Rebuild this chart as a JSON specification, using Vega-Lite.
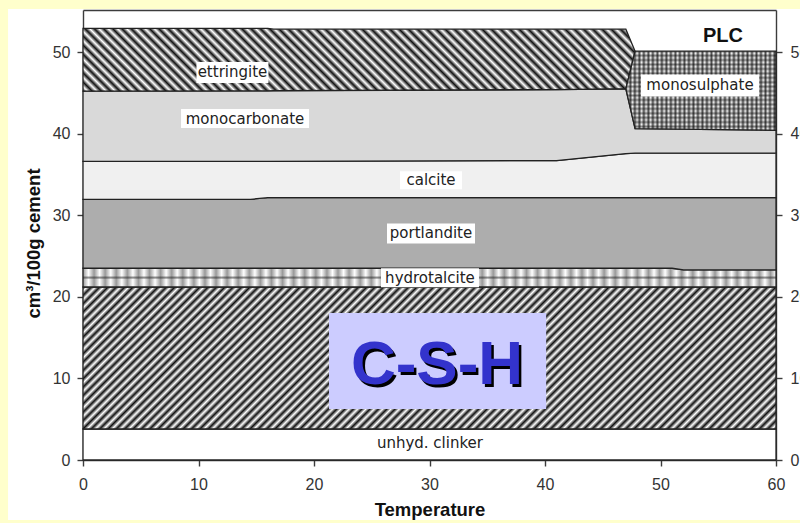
{
  "$schema": "https://vega.github.io/schema/vega-lite/v6.json",
  "width": 693,
  "height": 450,
  "autosize": {"type": "none"},
  "padding": {"left": 83, "top": 10, "right": 24, "bottom": 63},
  "background": "#ffffff",
  "config": {
    "view": {"stroke": null},
    "axis": {
      "zindex": 1, "grid": false,
      "domainColor": "#3c3c3c", "domainWidth": 1.4,
      "tickColor": "#3c3c3c", "tickWidth": 1.4, "tickSize": 6,
      "labelFont": "Liberation Sans", "labelFontSize": 16, "labelColor": "#333333", "labelFlush": false,
      "titleFont": "Liberation Sans", "titleFontSize": 18.5, "titleFontWeight": "bold", "titleColor": "#111111"
    }
  },
  "resolve": {"axis": {"x": "independent", "y": "independent"}},
  "datasets": {
    "phases": [
      {"phase": "unhyd. clinker", "T": 0, "lo": 0, "hi": 3.8},
      {"phase": "unhyd. clinker", "T": 60, "lo": 0, "hi": 3.8},
      {"phase": "C-S-H", "T": 0, "lo": 3.8, "hi": 21.2},
      {"phase": "C-S-H", "T": 60, "lo": 3.8, "hi": 21.2},
      {"phase": "hydrotalcite", "T": 0, "lo": 21.2, "hi": 23.5},
      {"phase": "hydrotalcite", "T": 51, "lo": 21.2, "hi": 23.5},
      {"phase": "hydrotalcite", "T": 52, "lo": 21.2, "hi": 23.3},
      {"phase": "hydrotalcite", "T": 60, "lo": 21.2, "hi": 23.3},
      {"phase": "portlandite", "T": 0, "lo": 23.5, "hi": 31.95},
      {"phase": "portlandite", "T": 14.5, "lo": 23.5, "hi": 31.95},
      {"phase": "portlandite", "T": 16, "lo": 23.5, "hi": 32.15},
      {"phase": "portlandite", "T": 51, "lo": 23.5, "hi": 32.15},
      {"phase": "portlandite", "T": 52, "lo": 23.3, "hi": 32.15},
      {"phase": "portlandite", "T": 60, "lo": 23.3, "hi": 32.15},
      {"phase": "calcite", "T": 0, "lo": 31.95, "hi": 36.6},
      {"phase": "calcite", "T": 14.5, "lo": 31.95, "hi": 36.6},
      {"phase": "calcite", "T": 16, "lo": 32.15, "hi": 36.6},
      {"phase": "calcite", "T": 41, "lo": 32.15, "hi": 36.7},
      {"phase": "calcite", "T": 47, "lo": 32.15, "hi": 37.55},
      {"phase": "calcite", "T": 47.8, "lo": 32.15, "hi": 37.6},
      {"phase": "calcite", "T": 60, "lo": 32.15, "hi": 37.6},
      {"phase": "monocarbonate", "T": 0, "lo": 36.6, "hi": 45.2},
      {"phase": "monocarbonate", "T": 16, "lo": 36.6, "hi": 45.25},
      {"phase": "monocarbonate", "T": 41, "lo": 36.7, "hi": 45.4},
      {"phase": "monocarbonate", "T": 47, "lo": 37.55, "hi": 45.5},
      {"phase": "monocarbonate", "T": 47.8, "lo": 37.6, "hi": 40.6},
      {"phase": "monocarbonate", "T": 60, "lo": 37.6, "hi": 40.4},
      {"phase": "ettringite", "T": 0, "lo": 45.2, "hi": 52.9},
      {"phase": "ettringite", "T": 16, "lo": 45.25, "hi": 52.9},
      {"phase": "ettringite", "T": 16.5, "lo": 45.26, "hi": 52.8},
      {"phase": "ettringite", "T": 41, "lo": 45.4, "hi": 52.8},
      {"phase": "ettringite", "T": 47, "lo": 45.5, "hi": 52.8},
      {"phase": "ettringite", "T": 47.8, "lo": 50.1, "hi": 50.1},
      {"phase": "monosulphate", "T": 47, "lo": 45.5, "hi": 45.5},
      {"phase": "monosulphate", "T": 47.8, "lo": 40.6, "hi": 50.1},
      {"phase": "monosulphate", "T": 60, "lo": 40.4, "hi": 50.1}
    ],
    "labels": [
      {"label": "ettringite", "T": 12.94, "v": 47.5},
      {"label": "monocarbonate", "T": 14.03, "v": 41.85},
      {"label": "calcite", "T": 30.13, "v": 34.3},
      {"label": "portlandite", "T": 30.13, "v": 27.76},
      {"label": "hydrotalcite", "T": 30.04, "v": 22.35},
      {"label": "monosulphate", "T": 53.42, "v": 45.9},
      {"label": "unhyd. clinker", "T": 30.04, "v": 2.08}
    ]
  },
  "layer": [
    {
      "data": {"values": [{}]},
      "mark": {"type": "rect", "fill": "#ffffcc"},
      "encoding": {
        "x": {"datum": -7.4, "type": "quantitative", "scale": {"domain": [0, 60], "nice": false}, "axis": null},
        "x2": {"datum": 63},
        "y": {"datum": 55.27, "type": "quantitative", "scale": {"domain": [0, 55.15], "nice": false}, "axis": null},
        "y2": {"datum": 56.6}
      }
    },
    {
      "data": {"values": [{}]},
      "mark": {"type": "rect", "fill": "#ffffcc"},
      "encoding": {
        "x": {"datum": -7.4, "type": "quantitative", "scale": {"domain": [0, 60], "nice": false}, "axis": null},
        "x2": {"datum": 63},
        "y": {"datum": -7.35, "type": "quantitative", "scale": {"domain": [0, 55.15], "nice": false}, "axis": null},
        "y2": {"datum": -8}
      }
    },
    {
      "data": {"values": [{}]},
      "mark": {"type": "rect", "fill": "#ffffcc"},
      "encoding": {
        "x": {"datum": -7.4, "type": "quantitative", "scale": {"domain": [0, 60], "nice": false}, "axis": null},
        "x2": {"datum": -6.49},
        "y": {"datum": -8, "type": "quantitative", "scale": {"domain": [0, 55.15], "nice": false}, "axis": null},
        "y2": {"datum": 56.6}
      }
    },
    {
      "data": {"name": "phases"},
      "transform": [{"filter": {"field": "phase", "equal": "unhyd. clinker"}}],
      "mark": {"type": "area", "fill": "#ffffff", "stroke": "#222222", "strokeWidth": 1.3},
      "encoding": {
        "x": {"field": "T", "type": "quantitative", "scale": {"domain": [0, 60], "nice": false},
              "axis": {"orient": "bottom", "values": [0, 10, 20, 30, 40, 50, 60], "title": "Temperature", "labelPadding": 10, "titlePadding": 8}},
        "y": {"field": "lo", "type": "quantitative", "scale": {"domain": [0, 55.15], "nice": false},
              "axis": {"orient": "left", "values": [0, 10, 20, 30, 40, 50], "title": "cm³/100g cement", "labelPadding": 7, "titlePadding": 9, "titleY": 233}},
        "y2": {"field": "hi"}
      }
    },
    {
      "data": {"name": "phases"},
      "transform": [{"filter": {"field": "phase", "equal": "C-S-H"}}],
      "mark": {"type": "area", "stroke": "#222222", "strokeWidth": 1.3,
        "fill": {"gradient": "linear", "x1": 0, "y1": 0, "x2": 1.15634, "y2": 0.23691, "stops": [
          {"offset":0,"color":"#111"},{"offset":0.005,"color":"#fff"},{"offset":0.01,"color":"#111"},{"offset":0.015,"color":"#fff"},{"offset":0.02,"color":"#111"},{"offset":0.025,"color":"#fff"},{"offset":0.03,"color":"#111"},{"offset":0.035,"color":"#fff"},{"offset":0.04,"color":"#111"},{"offset":0.045,"color":"#fff"},
          {"offset":0.05,"color":"#111"},{"offset":0.055,"color":"#fff"},{"offset":0.06,"color":"#111"},{"offset":0.065,"color":"#fff"},{"offset":0.07,"color":"#111"},{"offset":0.075,"color":"#fff"},{"offset":0.08,"color":"#111"},{"offset":0.085,"color":"#fff"},{"offset":0.09,"color":"#111"},{"offset":0.095,"color":"#fff"},
          {"offset":0.1,"color":"#111"},{"offset":0.105,"color":"#fff"},{"offset":0.11,"color":"#111"},{"offset":0.115,"color":"#fff"},{"offset":0.12,"color":"#111"},{"offset":0.125,"color":"#fff"},{"offset":0.13,"color":"#111"},{"offset":0.135,"color":"#fff"},{"offset":0.14,"color":"#111"},{"offset":0.145,"color":"#fff"},
          {"offset":0.15,"color":"#111"},{"offset":0.155,"color":"#fff"},{"offset":0.16,"color":"#111"},{"offset":0.165,"color":"#fff"},{"offset":0.17,"color":"#111"},{"offset":0.175,"color":"#fff"},{"offset":0.18,"color":"#111"},{"offset":0.185,"color":"#fff"},{"offset":0.19,"color":"#111"},{"offset":0.195,"color":"#fff"},
          {"offset":0.2,"color":"#111"},{"offset":0.205,"color":"#fff"},{"offset":0.21,"color":"#111"},{"offset":0.215,"color":"#fff"},{"offset":0.22,"color":"#111"},{"offset":0.225,"color":"#fff"},{"offset":0.23,"color":"#111"},{"offset":0.235,"color":"#fff"},{"offset":0.24,"color":"#111"},{"offset":0.245,"color":"#fff"},
          {"offset":0.25,"color":"#111"},{"offset":0.255,"color":"#fff"},{"offset":0.26,"color":"#111"},{"offset":0.265,"color":"#fff"},{"offset":0.27,"color":"#111"},{"offset":0.275,"color":"#fff"},{"offset":0.28,"color":"#111"},{"offset":0.285,"color":"#fff"},{"offset":0.29,"color":"#111"},{"offset":0.295,"color":"#fff"},
          {"offset":0.3,"color":"#111"},{"offset":0.305,"color":"#fff"},{"offset":0.31,"color":"#111"},{"offset":0.315,"color":"#fff"},{"offset":0.32,"color":"#111"},{"offset":0.325,"color":"#fff"},{"offset":0.33,"color":"#111"},{"offset":0.335,"color":"#fff"},{"offset":0.34,"color":"#111"},{"offset":0.345,"color":"#fff"},
          {"offset":0.35,"color":"#111"},{"offset":0.355,"color":"#fff"},{"offset":0.36,"color":"#111"},{"offset":0.365,"color":"#fff"},{"offset":0.37,"color":"#111"},{"offset":0.375,"color":"#fff"},{"offset":0.38,"color":"#111"},{"offset":0.385,"color":"#fff"},{"offset":0.39,"color":"#111"},{"offset":0.395,"color":"#fff"},
          {"offset":0.4,"color":"#111"},{"offset":0.405,"color":"#fff"},{"offset":0.41,"color":"#111"},{"offset":0.415,"color":"#fff"},{"offset":0.42,"color":"#111"},{"offset":0.425,"color":"#fff"},{"offset":0.43,"color":"#111"},{"offset":0.435,"color":"#fff"},{"offset":0.44,"color":"#111"},{"offset":0.445,"color":"#fff"},
          {"offset":0.45,"color":"#111"},{"offset":0.455,"color":"#fff"},{"offset":0.46,"color":"#111"},{"offset":0.465,"color":"#fff"},{"offset":0.47,"color":"#111"},{"offset":0.475,"color":"#fff"},{"offset":0.48,"color":"#111"},{"offset":0.485,"color":"#fff"},{"offset":0.49,"color":"#111"},{"offset":0.495,"color":"#fff"},
          {"offset":0.5,"color":"#111"},{"offset":0.505,"color":"#fff"},{"offset":0.51,"color":"#111"},{"offset":0.515,"color":"#fff"},{"offset":0.52,"color":"#111"},{"offset":0.525,"color":"#fff"},{"offset":0.53,"color":"#111"},{"offset":0.535,"color":"#fff"},{"offset":0.54,"color":"#111"},{"offset":0.545,"color":"#fff"},
          {"offset":0.55,"color":"#111"},{"offset":0.555,"color":"#fff"},{"offset":0.56,"color":"#111"},{"offset":0.565,"color":"#fff"},{"offset":0.57,"color":"#111"},{"offset":0.575,"color":"#fff"},{"offset":0.58,"color":"#111"},{"offset":0.585,"color":"#fff"},{"offset":0.59,"color":"#111"},{"offset":0.595,"color":"#fff"},
          {"offset":0.6,"color":"#111"},{"offset":0.605,"color":"#fff"},{"offset":0.61,"color":"#111"},{"offset":0.615,"color":"#fff"},{"offset":0.62,"color":"#111"},{"offset":0.625,"color":"#fff"},{"offset":0.63,"color":"#111"},{"offset":0.635,"color":"#fff"},{"offset":0.64,"color":"#111"},{"offset":0.645,"color":"#fff"},
          {"offset":0.65,"color":"#111"},{"offset":0.655,"color":"#fff"},{"offset":0.66,"color":"#111"},{"offset":0.665,"color":"#fff"},{"offset":0.67,"color":"#111"},{"offset":0.675,"color":"#fff"},{"offset":0.68,"color":"#111"},{"offset":0.685,"color":"#fff"},{"offset":0.69,"color":"#111"},{"offset":0.695,"color":"#fff"},
          {"offset":0.7,"color":"#111"},{"offset":0.705,"color":"#fff"},{"offset":0.71,"color":"#111"},{"offset":0.715,"color":"#fff"},{"offset":0.72,"color":"#111"},{"offset":0.725,"color":"#fff"},{"offset":0.73,"color":"#111"},{"offset":0.735,"color":"#fff"},{"offset":0.74,"color":"#111"},{"offset":0.745,"color":"#fff"},
          {"offset":0.75,"color":"#111"},{"offset":0.755,"color":"#fff"},{"offset":0.76,"color":"#111"},{"offset":0.765,"color":"#fff"},{"offset":0.77,"color":"#111"},{"offset":0.775,"color":"#fff"},{"offset":0.78,"color":"#111"},{"offset":0.785,"color":"#fff"},{"offset":0.79,"color":"#111"},{"offset":0.795,"color":"#fff"},
          {"offset":0.8,"color":"#111"},{"offset":0.805,"color":"#fff"},{"offset":0.81,"color":"#111"},{"offset":0.815,"color":"#fff"},{"offset":0.82,"color":"#111"},{"offset":0.825,"color":"#fff"},{"offset":0.83,"color":"#111"},{"offset":0.835,"color":"#fff"},{"offset":0.84,"color":"#111"},{"offset":0.845,"color":"#fff"},
          {"offset":0.85,"color":"#111"},{"offset":0.855,"color":"#fff"},{"offset":0.86,"color":"#111"},{"offset":0.865,"color":"#fff"},{"offset":0.87,"color":"#111"},{"offset":0.875,"color":"#fff"},{"offset":0.88,"color":"#111"},{"offset":0.885,"color":"#fff"},{"offset":0.89,"color":"#111"},{"offset":0.895,"color":"#fff"},
          {"offset":0.9,"color":"#111"},{"offset":0.905,"color":"#fff"},{"offset":0.91,"color":"#111"},{"offset":0.915,"color":"#fff"},{"offset":0.92,"color":"#111"},{"offset":0.925,"color":"#fff"},{"offset":0.93,"color":"#111"},{"offset":0.935,"color":"#fff"},{"offset":0.94,"color":"#111"},{"offset":0.945,"color":"#fff"},
          {"offset":0.95,"color":"#111"},{"offset":0.955,"color":"#fff"},{"offset":0.96,"color":"#111"},{"offset":0.965,"color":"#fff"},{"offset":0.97,"color":"#111"},{"offset":0.975,"color":"#fff"},{"offset":0.98,"color":"#111"},{"offset":0.985,"color":"#fff"},{"offset":0.99,"color":"#111"},{"offset":0.995,"color":"#fff"},
          {"offset":1,"color":"#111"}
        ]}},
      "encoding": {
        "x": {"field": "T", "type": "quantitative", "scale": {"domain": [0, 60], "nice": false},
              "axis": {"orient": "top", "labels": false, "ticks": false, "title": null}},
        "y": {"field": "lo", "type": "quantitative", "scale": {"domain": [0, 55.15], "nice": false},
              "axis": {"orient": "right", "values": [0, 10, 20, 30, 40, 50], "title": null, "labelPadding": 8}},
        "y2": {"field": "hi"}
      }
    },
    {
      "data": {"name": "phases"},
      "transform": [{"filter": {"field": "phase", "equal": "hydrotalcite"}}],
      "mark": {"type": "area",
        "fill": {"gradient": "linear", "x1": 0, "y1": 0, "x2": 1, "y2": 0, "stops": [
          {"offset":0,"color":"#999"},{"offset":0.008,"color":"#fff"},{"offset":0.016,"color":"#999"},{"offset":0.024,"color":"#fff"},{"offset":0.032,"color":"#999"},{"offset":0.04,"color":"#fff"},{"offset":0.048,"color":"#999"},{"offset":0.056,"color":"#fff"},{"offset":0.064,"color":"#999"},{"offset":0.072,"color":"#fff"},
          {"offset":0.08,"color":"#999"},{"offset":0.088,"color":"#fff"},{"offset":0.096,"color":"#999"},{"offset":0.104,"color":"#fff"},{"offset":0.112,"color":"#999"},{"offset":0.12,"color":"#fff"},{"offset":0.128,"color":"#999"},{"offset":0.136,"color":"#fff"},{"offset":0.144,"color":"#999"},{"offset":0.152,"color":"#fff"},
          {"offset":0.16,"color":"#999"},{"offset":0.168,"color":"#fff"},{"offset":0.176,"color":"#999"},{"offset":0.184,"color":"#fff"},{"offset":0.192,"color":"#999"},{"offset":0.2,"color":"#fff"},{"offset":0.208,"color":"#999"},{"offset":0.216,"color":"#fff"},{"offset":0.224,"color":"#999"},{"offset":0.232,"color":"#fff"},
          {"offset":0.24,"color":"#999"},{"offset":0.248,"color":"#fff"},{"offset":0.256,"color":"#999"},{"offset":0.264,"color":"#fff"},{"offset":0.272,"color":"#999"},{"offset":0.28,"color":"#fff"},{"offset":0.288,"color":"#999"},{"offset":0.296,"color":"#fff"},{"offset":0.304,"color":"#999"},{"offset":0.312,"color":"#fff"},
          {"offset":0.32,"color":"#999"},{"offset":0.328,"color":"#fff"},{"offset":0.336,"color":"#999"},{"offset":0.344,"color":"#fff"},{"offset":0.352,"color":"#999"},{"offset":0.36,"color":"#fff"},{"offset":0.368,"color":"#999"},{"offset":0.376,"color":"#fff"},{"offset":0.384,"color":"#999"},{"offset":0.392,"color":"#fff"},
          {"offset":0.4,"color":"#999"},{"offset":0.408,"color":"#fff"},{"offset":0.416,"color":"#999"},{"offset":0.424,"color":"#fff"},{"offset":0.432,"color":"#999"},{"offset":0.44,"color":"#fff"},{"offset":0.448,"color":"#999"},{"offset":0.456,"color":"#fff"},{"offset":0.464,"color":"#999"},{"offset":0.472,"color":"#fff"},
          {"offset":0.48,"color":"#999"},{"offset":0.488,"color":"#fff"},{"offset":0.496,"color":"#999"},{"offset":0.504,"color":"#fff"},{"offset":0.512,"color":"#999"},{"offset":0.52,"color":"#fff"},{"offset":0.528,"color":"#999"},{"offset":0.536,"color":"#fff"},{"offset":0.544,"color":"#999"},{"offset":0.552,"color":"#fff"},
          {"offset":0.56,"color":"#999"},{"offset":0.568,"color":"#fff"},{"offset":0.576,"color":"#999"},{"offset":0.584,"color":"#fff"},{"offset":0.592,"color":"#999"},{"offset":0.6,"color":"#fff"},{"offset":0.608,"color":"#999"},{"offset":0.616,"color":"#fff"},{"offset":0.624,"color":"#999"},{"offset":0.632,"color":"#fff"},
          {"offset":0.64,"color":"#999"},{"offset":0.648,"color":"#fff"},{"offset":0.656,"color":"#999"},{"offset":0.664,"color":"#fff"},{"offset":0.672,"color":"#999"},{"offset":0.68,"color":"#fff"},{"offset":0.688,"color":"#999"},{"offset":0.696,"color":"#fff"},{"offset":0.704,"color":"#999"},{"offset":0.712,"color":"#fff"},
          {"offset":0.72,"color":"#999"},{"offset":0.728,"color":"#fff"},{"offset":0.736,"color":"#999"},{"offset":0.744,"color":"#fff"},{"offset":0.752,"color":"#999"},{"offset":0.76,"color":"#fff"},{"offset":0.768,"color":"#999"},{"offset":0.776,"color":"#fff"},{"offset":0.784,"color":"#999"},{"offset":0.792,"color":"#fff"},
          {"offset":0.8,"color":"#999"},{"offset":0.808,"color":"#fff"},{"offset":0.816,"color":"#999"},{"offset":0.824,"color":"#fff"},{"offset":0.832,"color":"#999"},{"offset":0.84,"color":"#fff"},{"offset":0.848,"color":"#999"},{"offset":0.856,"color":"#fff"},{"offset":0.864,"color":"#999"},{"offset":0.872,"color":"#fff"},
          {"offset":0.88,"color":"#999"},{"offset":0.888,"color":"#fff"},{"offset":0.896,"color":"#999"},{"offset":0.904,"color":"#fff"},{"offset":0.912,"color":"#999"},{"offset":0.92,"color":"#fff"},{"offset":0.928,"color":"#999"},{"offset":0.936,"color":"#fff"},{"offset":0.944,"color":"#999"},{"offset":0.952,"color":"#fff"},
          {"offset":0.96,"color":"#999"},{"offset":0.968,"color":"#fff"},{"offset":0.976,"color":"#999"},{"offset":0.984,"color":"#fff"},{"offset":0.992,"color":"#999"},{"offset":1,"color":"#fff"}
        ]}},
      "encoding": {
        "x": {"field": "T", "type": "quantitative", "scale": {"domain": [0, 60], "nice": false}, "axis": null},
        "y": {"field": "lo", "type": "quantitative", "scale": {"domain": [0, 55.15], "nice": false}, "axis": null},
        "y2": {"field": "hi"}
      }
    },
    {
      "data": {"name": "phases"},
      "transform": [{"filter": {"field": "phase", "equal": "hydrotalcite"}}],
      "mark": {"type": "area", "stroke": "#222222", "strokeWidth": 1.3,
        "fill": {"gradient": "linear", "x1": 0, "y1": 0, "x2": 0, "y2": 1, "stops": [
          {"offset":0,"color":"rgba(0,0,0,0)"},{"offset":0.4,"color":"rgba(0,0,0,0)"},{"offset":0.5,"color":"rgba(40,40,40,0.55)"},{"offset":0.6,"color":"rgba(0,0,0,0)"},{"offset":1,"color":"rgba(0,0,0,0)"}
        ]}},
      "encoding": {
        "x": {"field": "T", "type": "quantitative", "scale": {"domain": [0, 60], "nice": false}, "axis": null},
        "y": {"field": "lo", "type": "quantitative", "scale": {"domain": [0, 55.15], "nice": false}, "axis": null},
        "y2": {"field": "hi"}
      }
    },
    {
      "data": {"name": "phases"},
      "transform": [{"filter": {"field": "phase", "equal": "portlandite"}}],
      "mark": {"type": "area", "fill": "#adadad", "stroke": "#222222", "strokeWidth": 1.3},
      "encoding": {
        "x": {"field": "T", "type": "quantitative", "scale": {"domain": [0, 60], "nice": false}, "axis": null},
        "y": {"field": "lo", "type": "quantitative", "scale": {"domain": [0, 55.15], "nice": false}, "axis": null},
        "y2": {"field": "hi"}
      }
    },
    {
      "data": {"name": "phases"},
      "transform": [{"filter": {"field": "phase", "equal": "calcite"}}],
      "mark": {"type": "area", "fill": "#f0f0f0", "stroke": "#222222", "strokeWidth": 1.3},
      "encoding": {
        "x": {"field": "T", "type": "quantitative", "scale": {"domain": [0, 60], "nice": false}, "axis": null},
        "y": {"field": "lo", "type": "quantitative", "scale": {"domain": [0, 55.15], "nice": false}, "axis": null},
        "y2": {"field": "hi"}
      }
    },
    {
      "data": {"name": "phases"},
      "transform": [{"filter": {"field": "phase", "equal": "monocarbonate"}}],
      "mark": {"type": "area", "fill": "#d9d9d9", "stroke": "#222222", "strokeWidth": 1.3},
      "encoding": {
        "x": {"field": "T", "type": "quantitative", "scale": {"domain": [0, 60], "nice": false}, "axis": null},
        "y": {"field": "lo", "type": "quantitative", "scale": {"domain": [0, 55.15], "nice": false}, "axis": null},
        "y2": {"field": "hi"}
      }
    },
    {
      "data": {"name": "phases"},
      "transform": [{"filter": {"field": "phase", "equal": "ettringite"}}],
      "mark": {"type": "area", "stroke": "#222222", "strokeWidth": 1.3,
        "fill": {"gradient": "linear", "x1": 0, "y1": 1, "x2": 1.09955, "y2": 0.87487, "stops": [
          {"offset":0,"color":"#111"},{"offset":0.0075,"color":"#fff"},{"offset":0.015,"color":"#111"},{"offset":0.0225,"color":"#fff"},{"offset":0.03,"color":"#111"},{"offset":0.0375,"color":"#fff"},{"offset":0.045,"color":"#111"},{"offset":0.0525,"color":"#fff"},{"offset":0.06,"color":"#111"},{"offset":0.0675,"color":"#fff"},
          {"offset":0.075,"color":"#111"},{"offset":0.0825,"color":"#fff"},{"offset":0.09,"color":"#111"},{"offset":0.0975,"color":"#fff"},{"offset":0.105,"color":"#111"},{"offset":0.1125,"color":"#fff"},{"offset":0.12,"color":"#111"},{"offset":0.1275,"color":"#fff"},{"offset":0.135,"color":"#111"},{"offset":0.1425,"color":"#fff"},
          {"offset":0.15,"color":"#111"},{"offset":0.1575,"color":"#fff"},{"offset":0.165,"color":"#111"},{"offset":0.1725,"color":"#fff"},{"offset":0.18,"color":"#111"},{"offset":0.1875,"color":"#fff"},{"offset":0.195,"color":"#111"},{"offset":0.2025,"color":"#fff"},{"offset":0.21,"color":"#111"},{"offset":0.2175,"color":"#fff"},
          {"offset":0.225,"color":"#111"},{"offset":0.2325,"color":"#fff"},{"offset":0.24,"color":"#111"},{"offset":0.2475,"color":"#fff"},{"offset":0.255,"color":"#111"},{"offset":0.2625,"color":"#fff"},{"offset":0.27,"color":"#111"},{"offset":0.2775,"color":"#fff"},{"offset":0.285,"color":"#111"},{"offset":0.2925,"color":"#fff"},
          {"offset":0.3,"color":"#111"},{"offset":0.3075,"color":"#fff"},{"offset":0.315,"color":"#111"},{"offset":0.3225,"color":"#fff"},{"offset":0.33,"color":"#111"},{"offset":0.3375,"color":"#fff"},{"offset":0.345,"color":"#111"},{"offset":0.3525,"color":"#fff"},{"offset":0.36,"color":"#111"},{"offset":0.3675,"color":"#fff"},
          {"offset":0.375,"color":"#111"},{"offset":0.3825,"color":"#fff"},{"offset":0.39,"color":"#111"},{"offset":0.3975,"color":"#fff"},{"offset":0.405,"color":"#111"},{"offset":0.4125,"color":"#fff"},{"offset":0.42,"color":"#111"},{"offset":0.4275,"color":"#fff"},{"offset":0.435,"color":"#111"},{"offset":0.4425,"color":"#fff"},
          {"offset":0.45,"color":"#111"},{"offset":0.4575,"color":"#fff"},{"offset":0.465,"color":"#111"},{"offset":0.4725,"color":"#fff"},{"offset":0.48,"color":"#111"},{"offset":0.4875,"color":"#fff"},{"offset":0.495,"color":"#111"},{"offset":0.5025,"color":"#fff"},{"offset":0.51,"color":"#111"},{"offset":0.5175,"color":"#fff"},
          {"offset":0.525,"color":"#111"},{"offset":0.5325,"color":"#fff"},{"offset":0.54,"color":"#111"},{"offset":0.5475,"color":"#fff"},{"offset":0.555,"color":"#111"},{"offset":0.5625,"color":"#fff"},{"offset":0.57,"color":"#111"},{"offset":0.5775,"color":"#fff"},{"offset":0.585,"color":"#111"},{"offset":0.5925,"color":"#fff"},
          {"offset":0.6,"color":"#111"},{"offset":0.6075,"color":"#fff"},{"offset":0.615,"color":"#111"},{"offset":0.6225,"color":"#fff"},{"offset":0.63,"color":"#111"},{"offset":0.6375,"color":"#fff"},{"offset":0.645,"color":"#111"},{"offset":0.6525,"color":"#fff"},{"offset":0.66,"color":"#111"},{"offset":0.6675,"color":"#fff"},
          {"offset":0.675,"color":"#111"},{"offset":0.6825,"color":"#fff"},{"offset":0.69,"color":"#111"},{"offset":0.6975,"color":"#fff"},{"offset":0.705,"color":"#111"},{"offset":0.7125,"color":"#fff"},{"offset":0.72,"color":"#111"},{"offset":0.7275,"color":"#fff"},{"offset":0.735,"color":"#111"},{"offset":0.7425,"color":"#fff"},
          {"offset":0.75,"color":"#111"},{"offset":0.7575,"color":"#fff"},{"offset":0.765,"color":"#111"},{"offset":0.7725,"color":"#fff"},{"offset":0.78,"color":"#111"},{"offset":0.7875,"color":"#fff"},{"offset":0.795,"color":"#111"},{"offset":0.8025,"color":"#fff"},{"offset":0.81,"color":"#111"},{"offset":0.8175,"color":"#fff"},
          {"offset":0.825,"color":"#111"},{"offset":0.8325,"color":"#fff"},{"offset":0.84,"color":"#111"},{"offset":0.8475,"color":"#fff"},{"offset":0.855,"color":"#111"},{"offset":0.8625,"color":"#fff"},{"offset":0.87,"color":"#111"},{"offset":0.8775,"color":"#fff"},{"offset":0.885,"color":"#111"},{"offset":0.8925,"color":"#fff"},
          {"offset":0.9,"color":"#111"},{"offset":0.9075,"color":"#fff"},{"offset":0.915,"color":"#111"},{"offset":0.9225,"color":"#fff"},{"offset":0.93,"color":"#111"},{"offset":0.9375,"color":"#fff"},{"offset":0.945,"color":"#111"},{"offset":0.9525,"color":"#fff"},{"offset":0.96,"color":"#111"},{"offset":0.9675,"color":"#fff"},
          {"offset":0.975,"color":"#111"},{"offset":0.9825,"color":"#fff"},{"offset":0.99,"color":"#111"},{"offset":0.9975,"color":"#fff"},{"offset":1,"color":"#fff"}
        ]}},
      "encoding": {
        "x": {"field": "T", "type": "quantitative", "scale": {"domain": [0, 60], "nice": false}, "axis": null},
        "y": {"field": "lo", "type": "quantitative", "scale": {"domain": [0, 55.15], "nice": false}, "axis": null},
        "y2": {"field": "hi"}
      }
    },
    {
      "data": {"name": "phases"},
      "transform": [{"filter": {"field": "phase", "equal": "monosulphate"}}],
      "mark": {"type": "area",
        "fill": {"gradient": "linear", "x1": 0, "y1": 0, "x2": 1, "y2": 0, "stops": [
          {"offset":0,"color":"#555"},{"offset":0.015,"color":"#fff"},{"offset":0.03,"color":"#555"},{"offset":0.045,"color":"#fff"},{"offset":0.06,"color":"#555"},{"offset":0.075,"color":"#fff"},{"offset":0.09,"color":"#555"},{"offset":0.105,"color":"#fff"},{"offset":0.12,"color":"#555"},{"offset":0.135,"color":"#fff"},
          {"offset":0.15,"color":"#555"},{"offset":0.165,"color":"#fff"},{"offset":0.18,"color":"#555"},{"offset":0.195,"color":"#fff"},{"offset":0.21,"color":"#555"},{"offset":0.225,"color":"#fff"},{"offset":0.24,"color":"#555"},{"offset":0.255,"color":"#fff"},{"offset":0.27,"color":"#555"},{"offset":0.285,"color":"#fff"},
          {"offset":0.3,"color":"#555"},{"offset":0.315,"color":"#fff"},{"offset":0.33,"color":"#555"},{"offset":0.345,"color":"#fff"},{"offset":0.36,"color":"#555"},{"offset":0.375,"color":"#fff"},{"offset":0.39,"color":"#555"},{"offset":0.405,"color":"#fff"},{"offset":0.42,"color":"#555"},{"offset":0.435,"color":"#fff"},
          {"offset":0.45,"color":"#555"},{"offset":0.465,"color":"#fff"},{"offset":0.48,"color":"#555"},{"offset":0.495,"color":"#fff"},{"offset":0.51,"color":"#555"},{"offset":0.525,"color":"#fff"},{"offset":0.54,"color":"#555"},{"offset":0.555,"color":"#fff"},{"offset":0.57,"color":"#555"},{"offset":0.585,"color":"#fff"},
          {"offset":0.6,"color":"#555"},{"offset":0.615,"color":"#fff"},{"offset":0.63,"color":"#555"},{"offset":0.645,"color":"#fff"},{"offset":0.66,"color":"#555"},{"offset":0.675,"color":"#fff"},{"offset":0.69,"color":"#555"},{"offset":0.705,"color":"#fff"},{"offset":0.72,"color":"#555"},{"offset":0.735,"color":"#fff"},
          {"offset":0.75,"color":"#555"},{"offset":0.765,"color":"#fff"},{"offset":0.78,"color":"#555"},{"offset":0.795,"color":"#fff"},{"offset":0.81,"color":"#555"},{"offset":0.825,"color":"#fff"},{"offset":0.84,"color":"#555"},{"offset":0.855,"color":"#fff"},{"offset":0.87,"color":"#555"},{"offset":0.885,"color":"#fff"},
          {"offset":0.9,"color":"#555"},{"offset":0.915,"color":"#fff"},{"offset":0.93,"color":"#555"},{"offset":0.945,"color":"#fff"},{"offset":0.96,"color":"#555"},{"offset":0.975,"color":"#fff"},{"offset":0.99,"color":"#555"},{"offset":1,"color":"#999"}
        ]}},
      "encoding": {
        "x": {"field": "T", "type": "quantitative", "scale": {"domain": [0, 60], "nice": false}, "axis": null},
        "y": {"field": "lo", "type": "quantitative", "scale": {"domain": [0, 55.15], "nice": false}, "axis": null},
        "y2": {"field": "hi"}
      }
    },
    {
      "data": {"name": "phases"},
      "transform": [{"filter": {"field": "phase", "equal": "monosulphate"}}],
      "mark": {"type": "area", "stroke": "#222222", "strokeWidth": 1.3,
        "fill": {"gradient": "linear", "x1": 0, "y1": 0, "x2": 0, "y2": 1, "stops": [
          {"offset":0,"color":"rgba(0,0,0,0.45)"},{"offset":0.028,"color":"rgba(0,0,0,0)"},{"offset":0.056,"color":"rgba(0,0,0,0.45)"},{"offset":0.084,"color":"rgba(0,0,0,0)"},{"offset":0.112,"color":"rgba(0,0,0,0.45)"},{"offset":0.14,"color":"rgba(0,0,0,0)"},{"offset":0.168,"color":"rgba(0,0,0,0.45)"},{"offset":0.196,"color":"rgba(0,0,0,0)"},{"offset":0.224,"color":"rgba(0,0,0,0.45)"},{"offset":0.252,"color":"rgba(0,0,0,0)"},
          {"offset":0.28,"color":"rgba(0,0,0,0.45)"},{"offset":0.308,"color":"rgba(0,0,0,0)"},{"offset":0.336,"color":"rgba(0,0,0,0.45)"},{"offset":0.364,"color":"rgba(0,0,0,0)"},{"offset":0.392,"color":"rgba(0,0,0,0.45)"},{"offset":0.42,"color":"rgba(0,0,0,0)"},{"offset":0.448,"color":"rgba(0,0,0,0.45)"},{"offset":0.476,"color":"rgba(0,0,0,0)"},{"offset":0.504,"color":"rgba(0,0,0,0.45)"},{"offset":0.532,"color":"rgba(0,0,0,0)"},
          {"offset":0.56,"color":"rgba(0,0,0,0.45)"},{"offset":0.588,"color":"rgba(0,0,0,0)"},{"offset":0.616,"color":"rgba(0,0,0,0.45)"},{"offset":0.644,"color":"rgba(0,0,0,0)"},{"offset":0.672,"color":"rgba(0,0,0,0.45)"},{"offset":0.7,"color":"rgba(0,0,0,0)"},{"offset":0.728,"color":"rgba(0,0,0,0.45)"},{"offset":0.756,"color":"rgba(0,0,0,0)"},{"offset":0.784,"color":"rgba(0,0,0,0.45)"},{"offset":0.812,"color":"rgba(0,0,0,0)"},
          {"offset":0.84,"color":"rgba(0,0,0,0.45)"},{"offset":0.868,"color":"rgba(0,0,0,0)"},{"offset":0.896,"color":"rgba(0,0,0,0.45)"},{"offset":0.924,"color":"rgba(0,0,0,0)"},{"offset":0.952,"color":"rgba(0,0,0,0.45)"},{"offset":0.98,"color":"rgba(0,0,0,0)"},{"offset":1,"color":"rgba(0,0,0,0.3)"}
        ]}},
      "encoding": {
        "x": {"field": "T", "type": "quantitative", "scale": {"domain": [0, 60], "nice": false}, "axis": null},
        "y": {"field": "lo", "type": "quantitative", "scale": {"domain": [0, 55.15], "nice": false}, "axis": null},
        "y2": {"field": "hi"}
      }
    },
    {
      "data": {"name": "labels"},
      "transform": [{"filter": {"field": "label", "oneOf": ["ettringite", "monocarbonate", "calcite", "portlandite", "hydrotalcite", "monosulphate"]}}],
      "mark": {"type": "point", "filled": true, "fill": "#ffffff", "strokeWidth": 0, "opacity": 1, "size": 10000},
      "encoding": {
        "x": {"field": "T", "type": "quantitative", "scale": {"domain": [0, 60], "nice": false}, "axis": null},
        "y": {"field": "v", "type": "quantitative", "scale": {"domain": [0, 55.15], "nice": false}, "axis": null},
        "shape": {"field": "label", "type": "nominal", "legend": null,
          "scale": {"domain": ["ettringite", "monocarbonate", "calcite", "portlandite", "hydrotalcite", "monosulphate"],
                    "range": ["M-0.72,-0.21H0.72V0.21H-0.72Z", "M-1.28,-0.19H1.28V0.19H-1.28Z", "M-0.62,-0.18H0.62V0.18H-0.62Z", "M-0.88,-0.2H0.88V0.2H-0.88Z", "M-0.98,-0.19H0.98V0.19H-0.98Z", "M-1.18,-0.22H1.18V0.22H-1.18Z"]}}
      }
    },
    {
      "data": {"name": "labels"},
      "mark": {"type": "text", "font": "DejaVu Sans", "fontSize": 15, "fill": "#222222", "align": "center", "baseline": "middle"},
      "encoding": {
        "x": {"field": "T", "type": "quantitative", "scale": {"domain": [0, 60], "nice": false}, "axis": null},
        "y": {"field": "v", "type": "quantitative", "scale": {"domain": [0, 55.15], "nice": false}, "axis": null},
        "text": {"field": "label"}
      }
    },
    {
      "data": {"values": [{"tag": "PLC"}]},
      "mark": {"type": "text", "font": "Liberation Sans", "fontSize": 20, "fontWeight": "bold", "fill": "#111111", "align": "center", "baseline": "alphabetic"},
      "encoding": {
        "x": {"datum": 55.41, "type": "quantitative", "scale": {"domain": [0, 60], "nice": false}, "axis": null},
        "y": {"datum": 51.23, "type": "quantitative", "scale": {"domain": [0, 55.15], "nice": false}, "axis": null},
        "text": {"field": "tag"}
      }
    },
    {
      "data": {"values": [{}]},
      "mark": {"type": "rect", "fill": "#ccccff"},
      "encoding": {
        "x": {"datum": 21.3, "type": "quantitative", "scale": {"domain": [0, 60], "nice": false}, "axis": null},
        "x2": {"datum": 40.1},
        "y": {"datum": 6.25, "type": "quantitative", "scale": {"domain": [0, 55.15], "nice": false}, "axis": null},
        "y2": {"datum": 18.02}
      }
    },
    {
      "data": {"values": [{"tag": "C-S-H"}]},
      "mark": {"type": "text", "font": "Liberation Sans", "fontSize": 62, "fontWeight": "bold", "fill": "#000000", "align": "center", "baseline": "alphabetic", "dx": 2.5, "dy": 2.5},
      "encoding": {
        "x": {"datum": 30.65, "type": "quantitative", "scale": {"domain": [0, 60], "nice": false}, "axis": null},
        "y": {"datum": 9.31, "type": "quantitative", "scale": {"domain": [0, 55.15], "nice": false}, "axis": null},
        "text": {"field": "tag"}
      }
    },
    {
      "data": {"values": [{"tag": "C-S-H"}]},
      "mark": {"type": "text", "font": "Liberation Sans", "fontSize": 62, "fontWeight": "bold", "fill": "#3333cc", "align": "center", "baseline": "alphabetic"},
      "encoding": {
        "x": {"datum": 30.65, "type": "quantitative", "scale": {"domain": [0, 60], "nice": false}, "axis": null},
        "y": {"datum": 9.31, "type": "quantitative", "scale": {"domain": [0, 55.15], "nice": false}, "axis": null},
        "text": {"field": "tag"}
      }
    }
  ]
}
